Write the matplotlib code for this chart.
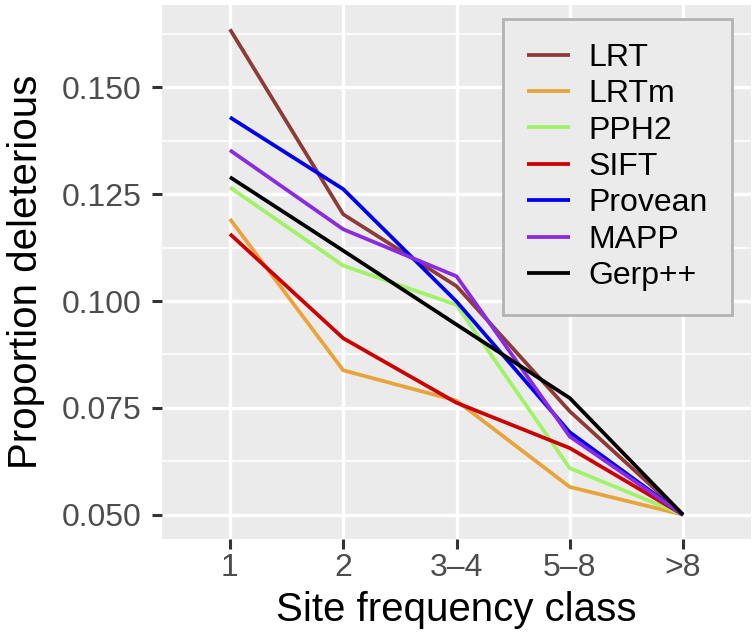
import matplotlib
matplotlib.use("Agg")
import matplotlib.pyplot as plt

plt.rcParams['font.family'] = ['Liberation Sans', 'DejaVu Sans']

# === DATA ===
classes = ["1", "2", "3\u20134", "5\u20138", ">8"]
methods = ["LRT", "LRTm", "PPH2", "SIFT", "Provean", "MAPP", "Gerp++"]
colors = ["#8E3B37", "#E9A33A", "#A0F266", "#CD0000", "#0000EE", "#8A2BE2", "#000000"]

lrt = [0.1636, 0.1203, 0.1035, 0.0742, 0.050]
lrtm = [0.1192, 0.0838, 0.0767, 0.0565, 0.050]
pph2 = [0.1266, 0.1083, 0.0991, 0.0609, 0.050]
sift = [0.1157, 0.0913, 0.0762, 0.0656, 0.050]
provean = [0.1430, 0.1262, 0.0999, 0.0693, 0.050]
mapp = [0.1353, 0.1168, 0.1058, 0.0683, 0.050]
gerp = [0.1290, 0.1118, 0.0945, 0.0773, 0.050]
series = [lrt, lrtm, pph2, sift, provean, mapp, gerp]

yticks = [0.050, 0.075, 0.100, 0.125, 0.150]
yminor = [0.0625, 0.0875, 0.1125, 0.1375, 0.1625]

fig = plt.figure(figsize=(7.52, 6.42), dpi=100)
ax = fig.add_axes([0.2154, 0.1604, 0.7833, 0.8318])
ax.set_facecolor("#EBEBEB")

x = list(range(len(classes)))
for vals, name, col in zip(series, methods, colors):
    ax.plot(x, vals, color=col, lw=2.7, label=name, solid_capstyle='butt', zorder=3)

# ggplot-like grid
for v in yminor:
    ax.axhline(v, color="white", lw=1.2, zorder=1)
for v in yticks:
    ax.axhline(v, color="white", lw=2.4, zorder=1)
for xi in x:
    ax.axvline(xi, color="white", lw=2.4, zorder=1)

lo, hi = 0.050, max(max(s) for s in series)
pad = (hi - lo) * 0.05
ax.set_ylim(lo - pad, hi + pad)
ax.set_xlim(-0.6, len(classes) - 0.4)

ax.set_xticks(x)
ax.set_xticklabels(classes)
ax.set_yticks(yticks)
ax.set_yticklabels([f"{v:.3f}" for v in yticks])
ax.tick_params(axis='both', labelsize=23, labelcolor="#4D4D4D", color="#333333",
               length=7, width=2.2)
ax.tick_params(axis='x', pad=2.8)
ax.tick_params(axis='y', pad=7.4)
for s in ax.spines.values():
    s.set_visible(False)

ax.set_xlabel("Site frequency class", fontsize=29, labelpad=6)
ax.set_ylabel("Proportion deleterious", fontsize=29, labelpad=12)

leg = ax.legend(loc='upper right', bbox_to_anchor=(0.968, 0.974), fontsize=23,
                frameon=True, fancybox=False, handlelength=1.35, handletextpad=0.6,
                labelspacing=0.2, borderpad=0.75, borderaxespad=0)
leg.get_frame().set_facecolor("#EBEBEB")
leg.get_frame().set_edgecolor("#B3B3B3")
leg.get_frame().set_linewidth(2)
leg.get_frame().set_alpha(1)

fig.savefig("out.png", dpi=100)
